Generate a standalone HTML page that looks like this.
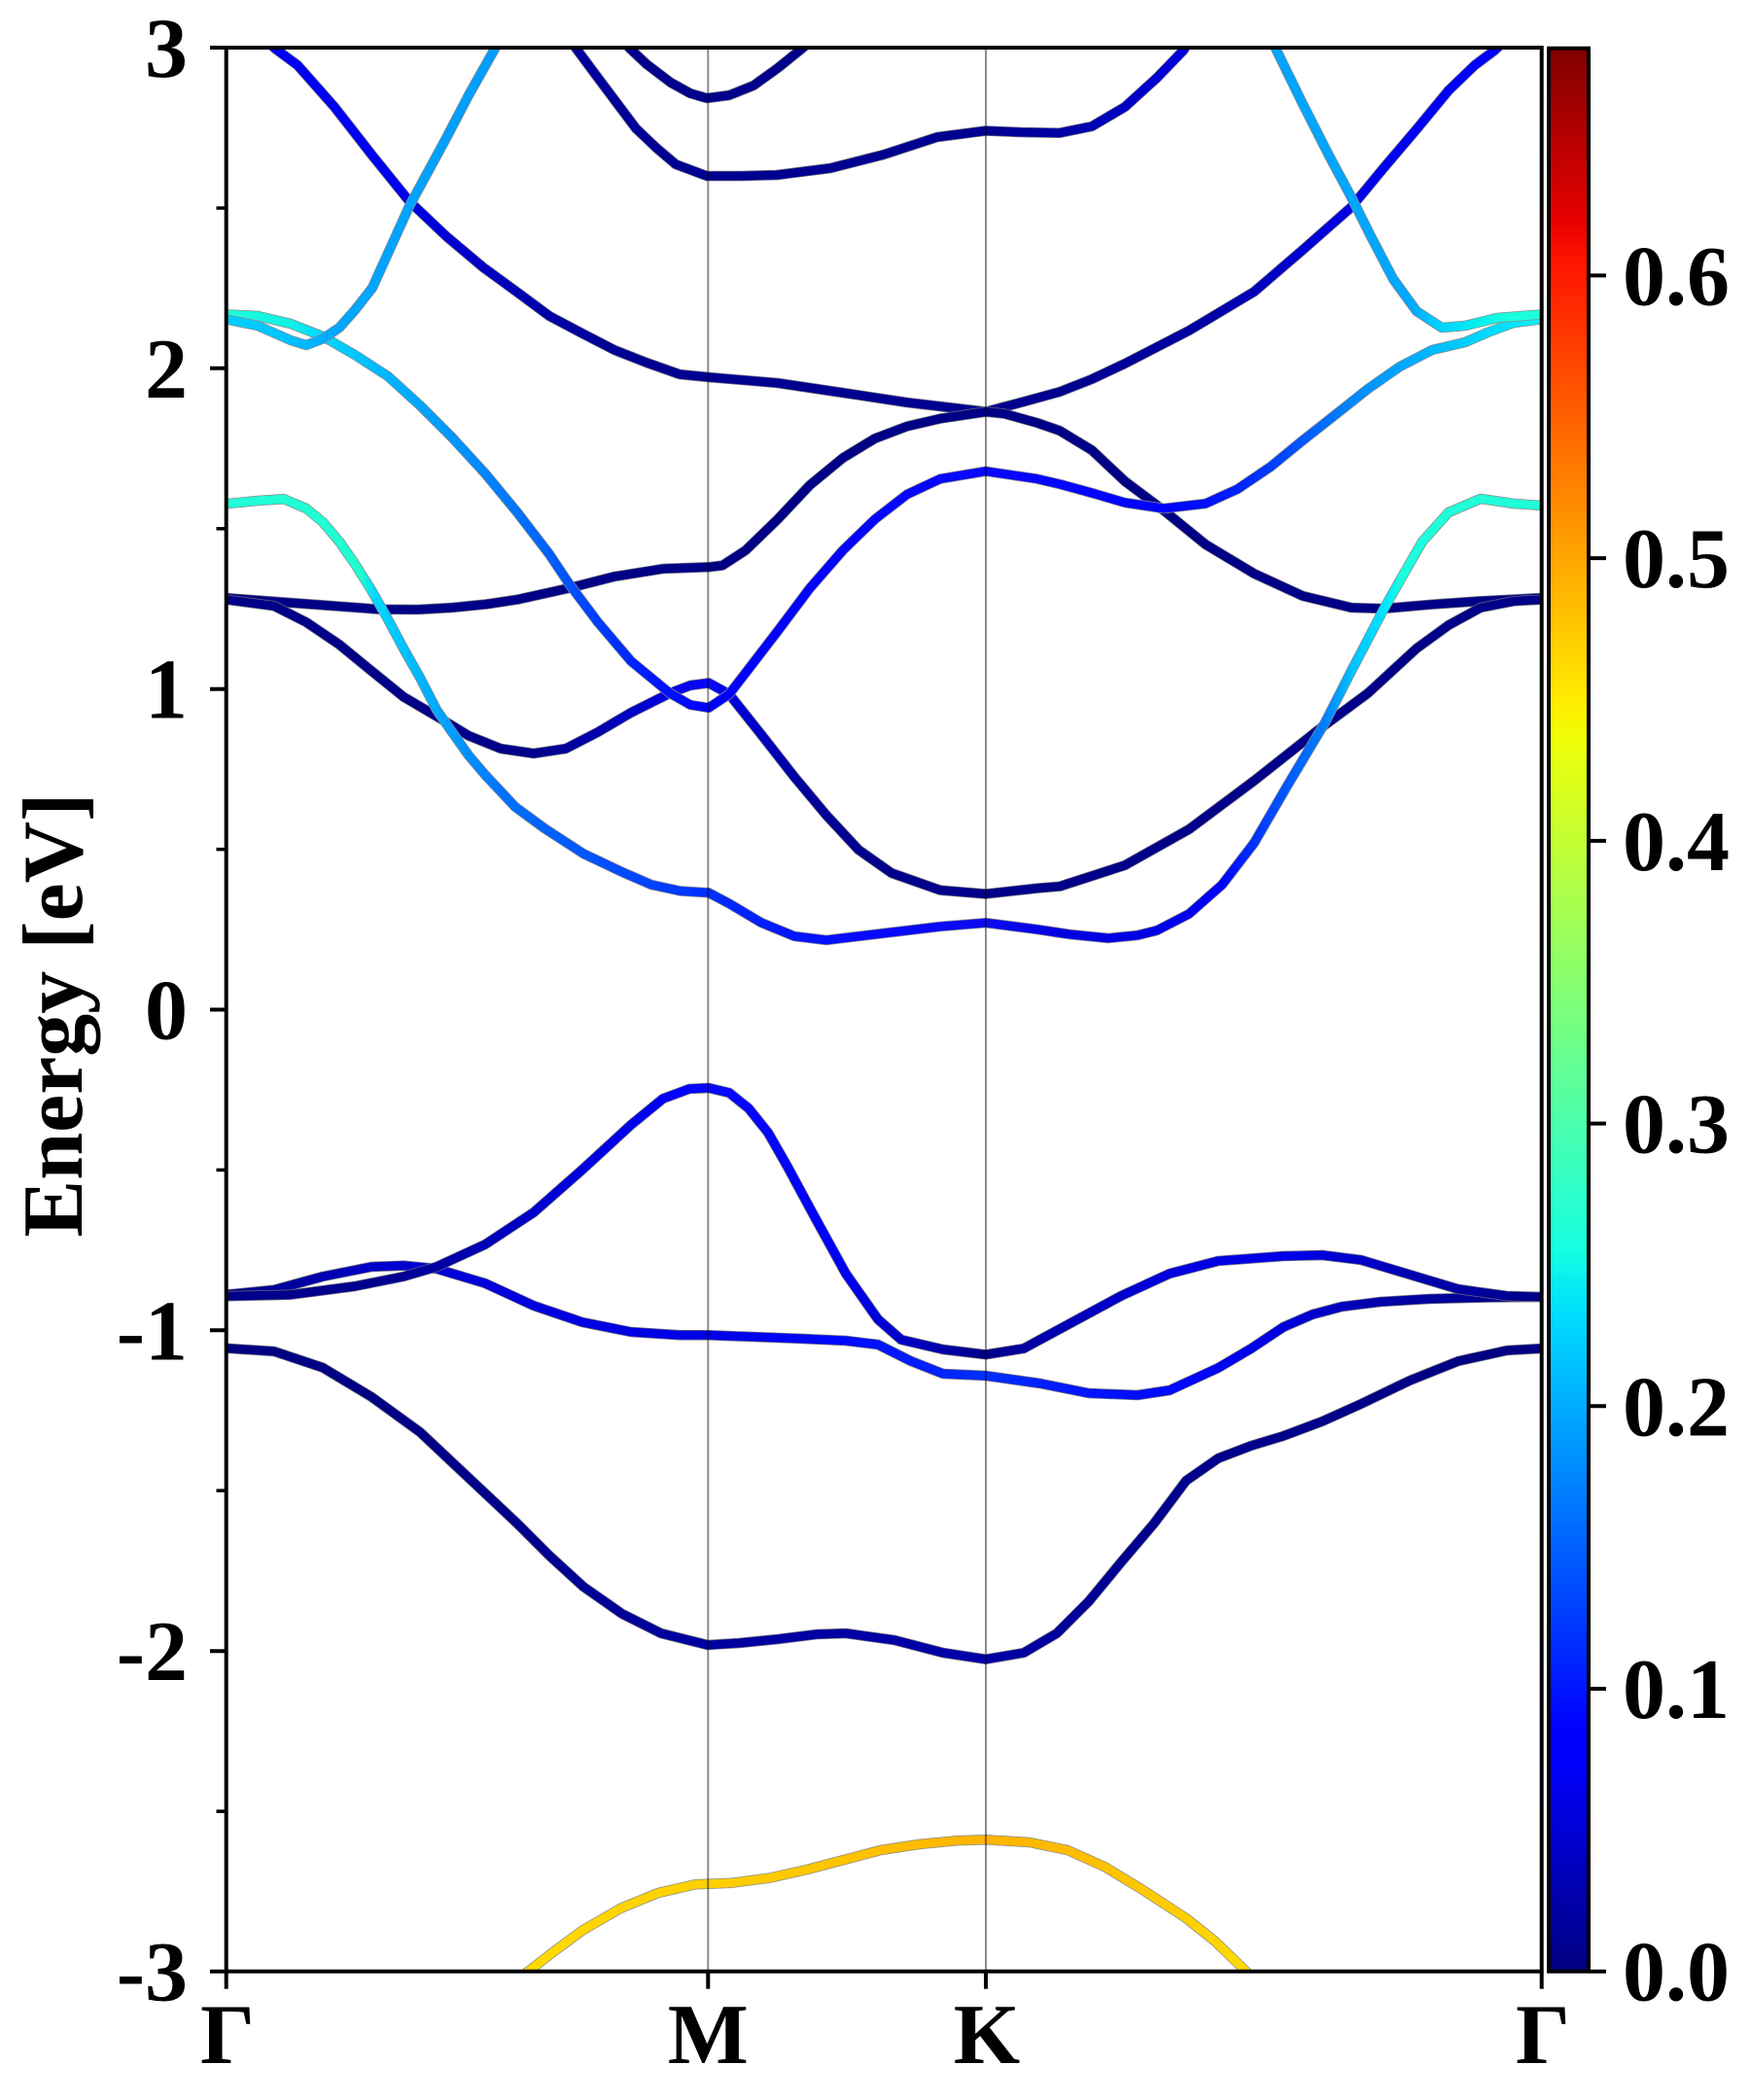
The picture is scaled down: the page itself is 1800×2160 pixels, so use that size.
<!DOCTYPE html>
<html>
<head>
<meta charset="utf-8">
<style>
html,body{margin:0;padding:0;background:#fff;}
svg{display:block;}
text{font-family:"Liberation Serif","DejaVu Serif",serif;font-weight:bold;fill:#000;}
</style>
</head>
<body>
<svg width="1800" height="2160" viewBox="0 0 1800 2160" xmlns="http://www.w3.org/2000/svg">
<defs>
  <clipPath id="ax"><rect x="232.7" y="49" width="1353" height="1979"/></clipPath>

  <linearGradient id="jet" x1="0" y1="1" x2="0" y2="0">
    <stop offset="0" stop-color="#000080"/>
    <stop offset="0.11" stop-color="#0000ff"/>
    <stop offset="0.125" stop-color="#0000ff"/>
    <stop offset="0.34" stop-color="#00dbff"/>
    <stop offset="0.35" stop-color="#00e6f7"/>
    <stop offset="0.375" stop-color="#15ffe2"/>
    <stop offset="0.64" stop-color="#eeff08"/>
    <stop offset="0.65" stop-color="#f7f500"/>
    <stop offset="0.66" stop-color="#ffec00"/>
    <stop offset="0.89" stop-color="#ff1300"/>
    <stop offset="0.91" stop-color="#e80000"/>
    <stop offset="1" stop-color="#800000"/>
  </linearGradient>

  <linearGradient id="g5" gradientUnits="userSpaceOnUse" x1="0" y1="0" x2="1800" y2="0">
    <stop offset="0.129" stop-color="#0000ff"/><stop offset="0.222" stop-color="#0000f0"/>
    <stop offset="0.261" stop-color="#0000d0"/><stop offset="0.311" stop-color="#0000a8"/>
    <stop offset="0.361" stop-color="#000090"/><stop offset="0.611" stop-color="#000090"/>
    <stop offset="0.694" stop-color="#0000a8"/><stop offset="0.75" stop-color="#0000d8"/>
    <stop offset="0.806" stop-color="#0000f8"/><stop offset="0.881" stop-color="#0000ff"/>
  </linearGradient>
  <linearGradient id="g2" gradientUnits="userSpaceOnUse" x1="0" y1="0" x2="1800" y2="0">
    <stop offset="0.129" stop-color="#000088"/><stop offset="0.306" stop-color="#00008a"/>
    <stop offset="0.344" stop-color="#0000b0"/><stop offset="0.378" stop-color="#0000e0"/>
    <stop offset="0.405" stop-color="#0808ff"/><stop offset="0.422" stop-color="#0000d8"/>
    <stop offset="0.456" stop-color="#0000a0"/><stop offset="0.5" stop-color="#00008a"/>
    <stop offset="0.881" stop-color="#000088"/>
  </linearGradient>
  <linearGradient id="g3" gradientUnits="userSpaceOnUse" x1="0" y1="0" x2="1800" y2="0">
    <stop offset="0.129" stop-color="#1effd8"/><stop offset="0.167" stop-color="#10f0e8"/>
    <stop offset="0.183" stop-color="#00d8ff"/><stop offset="0.222" stop-color="#00b4ff"/>
    <stop offset="0.267" stop-color="#0090ff"/><stop offset="0.306" stop-color="#0068ff"/>
    <stop offset="0.339" stop-color="#0040ff"/><stop offset="0.378" stop-color="#0010ff"/>
    <stop offset="0.406" stop-color="#0000ff"/><stop offset="0.563" stop-color="#0808ff"/>
    <stop offset="0.667" stop-color="#0000ff"/><stop offset="0.706" stop-color="#0020ff"/>
    <stop offset="0.739" stop-color="#0050ff"/><stop offset="0.778" stop-color="#0090ff"/>
    <stop offset="0.811" stop-color="#00b0ff"/><stop offset="0.839" stop-color="#00d0ff"/>
    <stop offset="0.867" stop-color="#00e8ff"/><stop offset="0.881" stop-color="#10f0f0"/>
  </linearGradient>
  <linearGradient id="g4l" gradientUnits="userSpaceOnUse" x1="0" y1="0" x2="1800" y2="0">
    <stop offset="0.129" stop-color="#00d0ff"/><stop offset="0.167" stop-color="#00c0ff"/>
    <stop offset="0.189" stop-color="#00a8ff"/><stop offset="0.289" stop-color="#009cff"/>
  </linearGradient>
  <linearGradient id="g4r" gradientUnits="userSpaceOnUse" x1="0" y1="0" x2="1800" y2="0">
    <stop offset="0.722" stop-color="#00a4ff"/><stop offset="0.806" stop-color="#00a8ff"/>
    <stop offset="0.822" stop-color="#00d0ff"/><stop offset="0.844" stop-color="#00f0f0"/>
    <stop offset="0.861" stop-color="#18ffe0"/><stop offset="0.881" stop-color="#20ffd8"/>
  </linearGradient>
  <linearGradient id="g1" gradientUnits="userSpaceOnUse" x1="0" y1="0" x2="1800" y2="0">
    <stop offset="0.129" stop-color="#20ffd8"/><stop offset="0.206" stop-color="#20ffd0"/>
    <stop offset="0.214" stop-color="#00d8ff"/><stop offset="0.233" stop-color="#00c0ff"/>
    <stop offset="0.256" stop-color="#00a0ff"/><stop offset="0.289" stop-color="#0070ff"/>
    <stop offset="0.344" stop-color="#0050ff"/><stop offset="0.405" stop-color="#0030ff"/>
    <stop offset="0.444" stop-color="#0018ff"/><stop offset="0.5" stop-color="#0808ff"/>
    <stop offset="0.563" stop-color="#0a0af0"/><stop offset="0.611" stop-color="#0000e0"/>
    <stop offset="0.661" stop-color="#0000e8"/><stop offset="0.698" stop-color="#0000ff"/>
    <stop offset="0.722" stop-color="#0040ff"/><stop offset="0.757" stop-color="#0080ff"/>
    <stop offset="0.772" stop-color="#00c0ff"/><stop offset="0.792" stop-color="#00e8ff"/>
    <stop offset="0.8" stop-color="#18ffe0"/><stop offset="0.822" stop-color="#20ffd8"/>
    <stop offset="0.881" stop-color="#20ffd8"/>
  </linearGradient>
  <linearGradient id="g26" gradientUnits="userSpaceOnUse" x1="0" y1="0" x2="1800" y2="0">
    <stop offset="0.325" stop-color="#0000a0"/><stop offset="0.389" stop-color="#000090"/>
    <stop offset="0.563" stop-color="#000090"/><stop offset="0.611" stop-color="#0000a8"/>
    <stop offset="0.667" stop-color="#0000d8"/>
  </linearGradient>
  <linearGradient id="gA" gradientUnits="userSpaceOnUse" x1="0" y1="0" x2="1800" y2="0">
    <stop offset="0.129" stop-color="#000088"/><stop offset="0.222" stop-color="#000090"/>
    <stop offset="0.278" stop-color="#0000b8"/><stop offset="0.333" stop-color="#0000e0"/>
    <stop offset="0.389" stop-color="#0000ff"/><stop offset="0.405" stop-color="#0808ff"/>
    <stop offset="0.472" stop-color="#0000ff"/><stop offset="0.511" stop-color="#0000d0"/>
    <stop offset="0.544" stop-color="#0000a0"/><stop offset="0.563" stop-color="#000088"/>
    <stop offset="0.6" stop-color="#0000b0"/><stop offset="0.667" stop-color="#0000e0"/>
    <stop offset="0.739" stop-color="#0000e8"/><stop offset="0.806" stop-color="#0000b0"/>
    <stop offset="0.881" stop-color="#000088"/>
  </linearGradient>
  <linearGradient id="gB" gradientUnits="userSpaceOnUse" x1="0" y1="0" x2="1800" y2="0">
    <stop offset="0.129" stop-color="#000088"/><stop offset="0.167" stop-color="#0000a0"/>
    <stop offset="0.211" stop-color="#0000c8"/><stop offset="0.25" stop-color="#0000d8"/>
    <stop offset="0.405" stop-color="#0000e8"/><stop offset="0.483" stop-color="#0008ff"/>
    <stop offset="0.563" stop-color="#0030ff"/><stop offset="0.611" stop-color="#0018ff"/>
    <stop offset="0.667" stop-color="#0008ff"/><stop offset="0.733" stop-color="#0000e0"/>
    <stop offset="0.789" stop-color="#0000a8"/><stop offset="0.881" stop-color="#000088"/>
  </linearGradient>
  <linearGradient id="gC" gradientUnits="userSpaceOnUse" x1="0" y1="0" x2="1800" y2="0">
    <stop offset="0.129" stop-color="#000080"/><stop offset="0.278" stop-color="#000088"/>
    <stop offset="0.389" stop-color="#0000a0"/><stop offset="0.563" stop-color="#0000a8"/>
    <stop offset="0.639" stop-color="#000090"/><stop offset="0.881" stop-color="#000080"/>
  </linearGradient>
  <linearGradient id="gY" gradientUnits="userSpaceOnUse" x1="0" y1="0" x2="1800" y2="0">
    <stop offset="0.3" stop-color="#ffdc00"/><stop offset="0.356" stop-color="#ffd400"/>
    <stop offset="0.404" stop-color="#ffd000"/><stop offset="0.5" stop-color="#ffc000"/>
    <stop offset="0.563" stop-color="#ffb400"/><stop offset="0.611" stop-color="#ffbc00"/>
    <stop offset="0.667" stop-color="#ffcc00"/><stop offset="0.717" stop-color="#ffdc00"/>
  </linearGradient>

  <polyline id="bY" points="535,2035 543,2028 570,2007 600,1985 638,1963 677,1947 715,1938.3 728,1937.7 753,1936.7 791,1931.7 830,1923 868,1913 906,1903 945,1897 983,1893.3 1014,1892.3 1059,1895 1098,1903 1136,1920 1174,1943 1200,1960 1220,1973 1250,1997 1282,2028 1289,2035"/>
  <polyline id="bC" points="232,1386.7 282,1390 332,1406.7 382,1436.7 432,1473 482,1520 532,1567 565,1600 600,1632 640,1660 680,1680 728,1692 760,1690 800,1686 840,1681 870,1680 920,1687 970,1700 1014,1706.7 1053,1700 1087,1680 1120,1647 1153,1607 1187,1567 1220,1523 1253,1500 1287,1487 1320,1477 1360,1462 1400,1444 1450,1420 1500,1400 1550,1389 1586,1387"/>
  <polyline id="bB" points="232,1331.7 282,1326.7 332,1313 382,1303 415,1301.7 449,1305 499,1320 549,1343 599,1360 649,1370 699,1373.3 729,1373.3 820,1376.7 870,1379 903,1383 937,1400 970,1413 1014,1415 1070,1423 1120,1433 1170,1435 1203,1430 1253,1407 1287,1387 1320,1365 1350,1352 1380,1344 1420,1339 1470,1336 1530,1334.5 1586,1334"/>
  <polyline id="bA" points="232,1333.3 299,1331.7 365,1323 415,1313 449,1303 499,1280 549,1247 599,1203 649,1157 682,1130 709,1120 729,1119 750,1124 770,1140 790,1165 810,1200 837,1250 870,1310 903,1357 927,1378 970,1388 1014,1393.3 1053,1387 1103,1360 1153,1333 1203,1310 1253,1297 1320,1292 1360,1291 1400,1296 1450,1311 1500,1326 1550,1333 1586,1334"/>
  <polyline id="b1" points="232,518.3 265,515 292,513.3 315,523 332,537 349,557 365,580 382,607 399,637 415,667 432,697 449,730 465,753 482,777 499,797 530,830 560,852 600,878 640,897 670,910 700,916.5 729,918.3 750,929.4 783,949 817,963 850,967 900,961 967,953 1014,949.2 1067,956 1100,961 1140,965 1170,962 1190,957 1223,940 1257,910 1290,867 1323,810 1363,743 1390,690 1423,627 1440,597 1463,557 1490,527 1523,513 1557,518 1586,520"/>
  <polyline id="b2" points="232,616.7 282,623.3 315,640 349,663 382,690 415,716.7 449,736.7 482,756.7 515,770 549,775 582,770 615,753 649,733 689,713 710,705 729,702.5 750,714 783,755.5 817,799 850,838.5 883,874 917,898 967,915.6 1014,919.5 1067,913.6 1090,911.7 1157,890 1223,853 1290,803 1357,750 1407,713 1457,667 1490,643 1523,625 1557,618.3 1586,616.7"/>
  <polyline id="bF" points="232,615 265,617.5 299,620 340,623 389,626.7 430,627 465,625 500,621.5 532,616.7 585,605 632,593 682,585 729,583.3 743,581.6 767,566 800,534 833,499 867,471 900,451 933,438.5 967,430.6 1014,423.5 1033,425.5 1067,435 1090,443 1123,463 1157,495 1197,525 1240,560 1290,590 1340,613 1390,625 1423,626 1473,621.7 1523,618.3 1586,615"/>
  <polyline id="b3" points="232,323.3 265,325 299,333 332,346 365,365 399,387 432,417 465,450 499,487 532,527 565,570 585,600 615,640 649,680 689,713 710,725 729,728 750,714 767,692 800,649 833,605 867,566 900,534 933,508.5 967,492.6 1014,484.7 1067,492.6 1090,498 1123,507 1157,517 1197,523 1240,518 1273,503 1307,480 1340,453 1373,427 1407,400 1440,377 1473,360 1507,352 1530,342 1557,332 1586,328.3"/>
  <polyline id="b4l" points="232,328.3 265,335 299,350 315,355 332,348.5 349,337 365,319 383,296 402,254 421,212 440,177 459,142 482,98 509,50 517,35"/>
  <polyline id="b4r" points="1305,35 1313,51.7 1340,107 1367,160 1390,203 1410,243 1433,287 1457,320 1483,337 1507,335 1540,327 1586,323.3"/>
  <polyline id="b5" points="270,38 283,50 306,67 344,110 383,160 421,207 459,243 497,275 534,302 565,325 599,343 632,360 665,373 699,385 729,388 800,394 867,404 933,414 1014,423.5 1050,414 1090,403 1123,390 1157,374 1223,340 1290,300 1340,257 1390,213 1423,173 1457,133 1490,93 1517,67 1537,52 1552,38"/>
  <polyline id="b26" points="585,40 592,49 612,76 633,104 654,132 675,152 695,169 727,181 760,181 799,180 854,173 909,159 964,141 1014,134.5 1050,136 1090,136.7 1123,130 1157,110 1190,80 1217,52 1225,40"/>
  <polyline id="b28" points="640,40 647,49 665,66 690,85 710,96 727,101 750,98 775,88 800,70 826,49 835,40"/>
</defs>

<rect x="0" y="0" width="1800" height="2160" fill="#fff"/>

<g clip-path="url(#ax)" fill="none" stroke-linejoin="round">
  <use href="#bY" stroke="#8a8a8a" stroke-width="10.5"/><use href="#bY" stroke="url(#gY)" stroke-width="9"/>
  <use href="#bC" stroke="#6a6a7a" stroke-width="10.5"/><use href="#bC" stroke="url(#gC)" stroke-width="9"/>
  <use href="#bB" stroke="#6a6a7a" stroke-width="10.5"/><use href="#bB" stroke="url(#gB)" stroke-width="9"/>
  <use href="#bA" stroke="#6a6a7a" stroke-width="10.5"/><use href="#bA" stroke="url(#gA)" stroke-width="9"/>
  <use href="#b28" stroke="#6a6a7a" stroke-width="10.5"/><use href="#b28" stroke="#00008c" stroke-width="9"/>
  <use href="#b26" stroke="#6a6a7a" stroke-width="10.5"/><use href="#b26" stroke="url(#g26)" stroke-width="9"/>
  <use href="#b5" stroke="#6a6a7a" stroke-width="10.5"/><use href="#b5" stroke="url(#g5)" stroke-width="9"/>
  <use href="#bF" stroke="#6a6a7a" stroke-width="10.5"/><use href="#bF" stroke="#000086" stroke-width="9"/>
  <use href="#b2" stroke="#6a6a7a" stroke-width="10.5"/><use href="#b2" stroke="url(#g2)" stroke-width="9"/>
  <use href="#b3" stroke="#8a8a8a" stroke-width="10.5"/><use href="#b3" stroke="url(#g3)" stroke-width="9"/>
  <use href="#b4l" stroke="#8a8a8a" stroke-width="10.5"/><use href="#b4l" stroke="url(#g4l)" stroke-width="9"/>
  <use href="#b4r" stroke="#8a8a8a" stroke-width="10.5"/><use href="#b4r" stroke="url(#g4r)" stroke-width="9"/>
  <use href="#b1" stroke="#8a8a8a" stroke-width="10.5"/><use href="#b1" stroke="url(#g1)" stroke-width="9"/>
</g>

<line x1="728.3" y1="49" x2="728.3" y2="2028" stroke="#000" stroke-opacity="0.45" stroke-width="2"/>
<line x1="1014" y1="49" x2="1014" y2="2028" stroke="#000" stroke-opacity="0.45" stroke-width="2"/>

<rect x="232.7" y="49" width="1353" height="1978.7" fill="none" stroke="#000" stroke-width="4"/>

<g stroke="#000" stroke-width="4">
  <line x1="216" y1="49" x2="232.7" y2="49"/>
  <line x1="216" y1="378.8" x2="232.7" y2="378.8"/>
  <line x1="216" y1="708.7" x2="232.7" y2="708.7"/>
  <line x1="216" y1="1038.5" x2="232.7" y2="1038.5"/>
  <line x1="216" y1="1368.3" x2="232.7" y2="1368.3"/>
  <line x1="216" y1="1698.2" x2="232.7" y2="1698.2"/>
  <line x1="216" y1="2027.7" x2="232.7" y2="2027.7"/>
  <line x1="232.7" y1="2027.7" x2="232.7" y2="2045.7"/>
  <line x1="728.3" y1="2027.7" x2="728.3" y2="2045.7"/>
  <line x1="1014" y1="2027.7" x2="1014" y2="2045.7"/>
  <line x1="1585.7" y1="2027.7" x2="1585.7" y2="2045.7"/>
</g>
<g stroke="#000" stroke-width="3.5">
  <line x1="222.5" y1="214" x2="232.7" y2="214"/>
  <line x1="222.5" y1="543.8" x2="232.7" y2="543.8"/>
  <line x1="222.5" y1="873.6" x2="232.7" y2="873.6"/>
  <line x1="222.5" y1="1203.4" x2="232.7" y2="1203.4"/>
  <line x1="222.5" y1="1533.2" x2="232.7" y2="1533.2"/>
  <line x1="222.5" y1="1863.1" x2="232.7" y2="1863.1"/>
</g>

<g font-size="88" text-anchor="end">
  <text x="193" y="79">3</text>
  <text x="193" y="408.8">2</text>
  <text x="193" y="738.7">1</text>
  <text x="193" y="1068.5">0</text>
  <text x="193" y="1398.3">-1</text>
  <text x="193" y="1728.2">-2</text>
  <text x="193" y="2057.7">-3</text>
</g>

<g font-size="88" text-anchor="middle">
  <text x="234" y="2122">Γ</text>
  <text x="728.3" y="2122">M</text>
  <text x="1015" y="2122">K</text>
  <text x="1587" y="2122">Γ</text>
</g>

<text font-size="88" text-anchor="middle" transform="translate(84,1044) rotate(-90)">Energy [eV]</text>

<rect x="1593" y="49.7" width="41" height="1978" fill="url(#jet)" stroke="#000" stroke-width="4"/>
<g stroke="#000" stroke-width="4">
  <line x1="1634" y1="2027.7" x2="1652" y2="2027.7"/>
  <line x1="1634" y1="1737" x2="1652" y2="1737"/>
  <line x1="1634" y1="1446.3" x2="1652" y2="1446.3"/>
  <line x1="1634" y1="1155.6" x2="1652" y2="1155.6"/>
  <line x1="1634" y1="864.9" x2="1652" y2="864.9"/>
  <line x1="1634" y1="574.1" x2="1652" y2="574.1"/>
  <line x1="1634" y1="283.4" x2="1652" y2="283.4"/>
</g>
<g font-size="88" text-anchor="start">
  <text x="1669" y="2057.7">0.0</text>
  <text x="1669" y="1767">0.1</text>
  <text x="1669" y="1476.3">0.2</text>
  <text x="1669" y="1185.6">0.3</text>
  <text x="1669" y="894.9">0.4</text>
  <text x="1669" y="604.1">0.5</text>
  <text x="1669" y="313.4">0.6</text>
</g>
</svg>
</body>
</html>
